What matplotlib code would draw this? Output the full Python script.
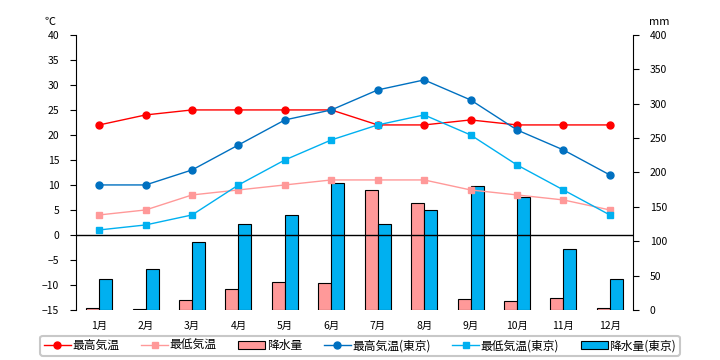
import matplotlib
matplotlib.use('Agg')
import matplotlib.pyplot as plt
import numpy as np

plt.rcParams['font.family'] = ['Noto Sans CJK JP', 'DejaVu Sans']
plt.rcParams['font.size'] = 7.5

months = ['1月', '2月', '3月', '4月', '5月', '6月', '7月', '8月', '9月', '10月', '11月', '12月']
max_temp = [22, 24, 25, 25, 25, 25, 22, 22, 23, 22, 22, 22]
min_temp = [4, 5, 8, 9, 10, 11, 11, 11, 9, 8, 7, 5]
rain = [2.5, 1, 14, 31, 40, 39, 174, 155, 16, 13, 18, 3]
max_tokyo = [10, 10, 13, 18, 23, 25, 29, 31, 27, 21, 17, 12]
min_tokyo = [1, 2, 4, 10, 15, 19, 22, 24, 20, 14, 9, 4]
rain_tokyo = [45, 59, 99, 125, 138, 184, 125, 146, 180, 164, 88, 45]

x = np.arange(len(months))
w = 0.28

fig = plt.figure(figsize=(7.2, 3.6), dpi=100)
ax = fig.add_axes([0.1056, 0.139, 0.7736, 0.764])
ax2 = ax.twinx()
ax.set_zorder(ax2.get_zorder() + 1)
ax.patch.set_visible(False)
ax2.set_facecolor('#FFFFCC')

b1 = ax2.bar(x - w / 2, rain, w, color='#FF9999', edgecolor='black', linewidth=0.8, label='降水量')
b2 = ax2.bar(x + w / 2, rain_tokyo, w, color='#00B0F0', edgecolor='black', linewidth=0.8, label='降水量(東京)')

l1, = ax.plot(x, max_temp, color='#FF0000', marker='o', ms=5, lw=1, label='最高気温')
l2, = ax.plot(x, min_temp, color='#FF9999', marker='s', ms=5, lw=1, label='最低気温')
l3, = ax.plot(x, max_tokyo, color='#0070C0', marker='o', ms=5, lw=1, label='最高気温(東京)')
l4, = ax.plot(x, min_tokyo, color='#00B0F0', marker='s', ms=5, lw=1, label='最低気温(東京)')
ax.axhline(0, color='black', lw=1, zorder=1)

ax.set_xlim(-0.5, 11.5)
ax.set_ylim(-15, 40)
ax.set_yticks(range(-15, 41, 5))
ax2.set_ylim(0, 400)
ax2.set_yticks(range(0, 401, 50))
ax.set_xticks(x)
ax.set_xticklabels(months)
ax.tick_params(axis='x', length=0, pad=8)
ax.tick_params(axis='y', length=4, pad=8)
ax2.tick_params(axis='y', length=4, pad=8)

for a in (ax, ax2):
    a.spines['top'].set_visible(False)
    a.spines['bottom'].set_visible(False)
ax2.spines['left'].set_visible(False)
ax.spines['right'].set_visible(False)

fig.text(0.07, 0.93, '℃', fontsize=8, ha='center')
fig.text(0.915, 0.93, 'mm', fontsize=8, ha='center')

leg = fig.legend([l1, l2, b1, l3, l4, b2],
                 ['最高気温', '最低気温', '降水量', '最高気温(東京)', '最低気温(東京)', '降水量(東京)'],
                 loc='center', bbox_to_anchor=(0.5, 0.04), ncol=6, frameon=True,
                 fancybox=True, edgecolor='#BBBBBB', handlelength=2.3,
                 columnspacing=1.85, handletextpad=0.1, borderpad=0.3, fontsize=8.5)
leg.get_frame().set_linewidth(1.5)

fig.savefig('out.png', dpi=100)
